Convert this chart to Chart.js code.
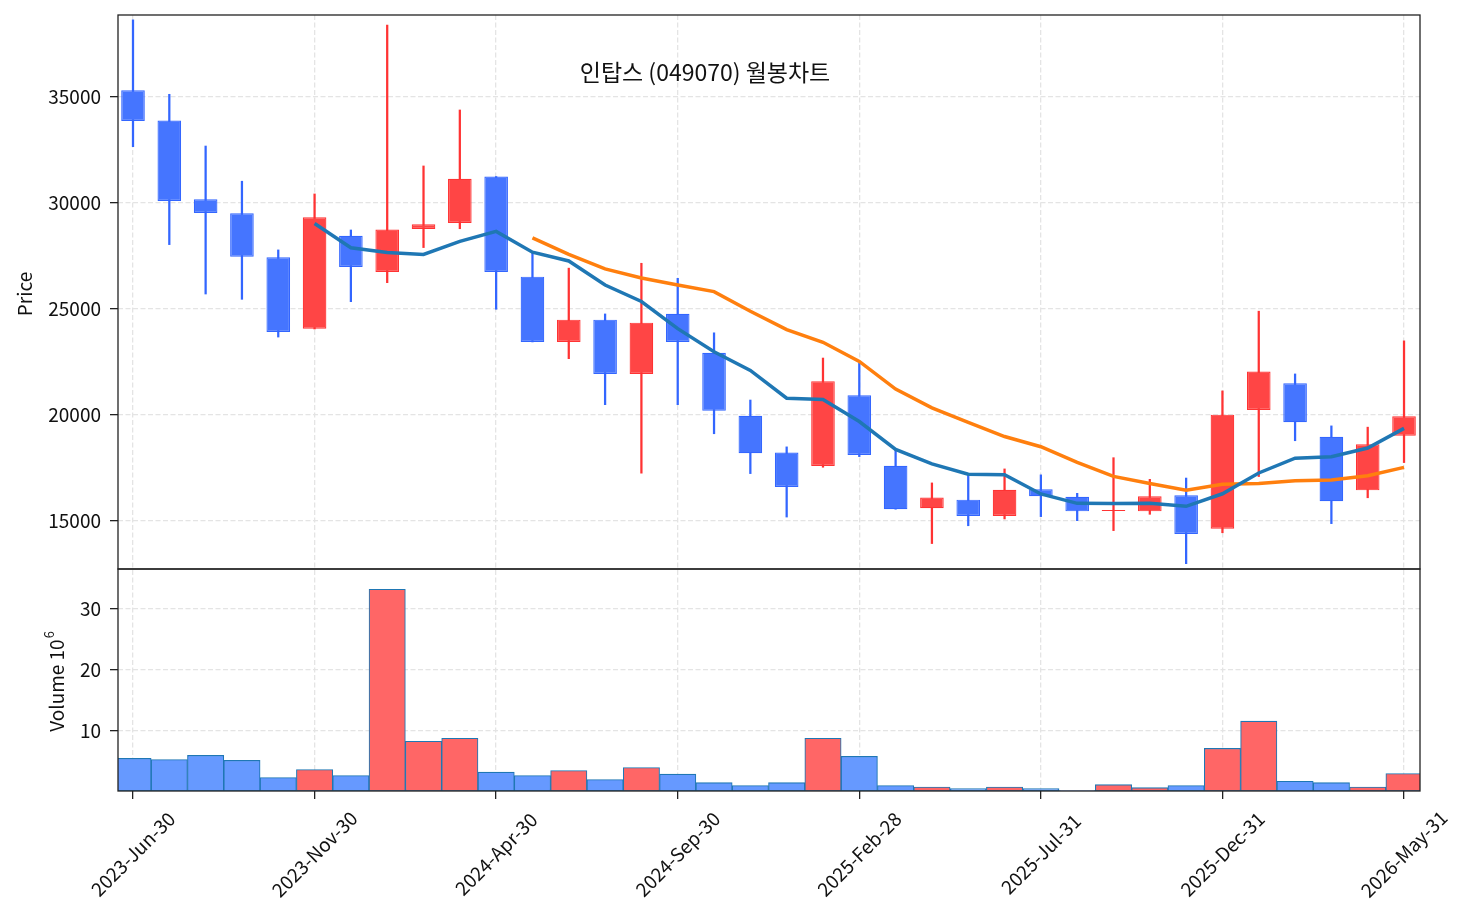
<!DOCTYPE html>
<html>
<head>
<meta charset="utf-8">
<script src="https://cdn.jsdelivr.net/npm/chart.js@4.4.1/dist/chart.umd.min.js"></script>
<style>
  html, body { margin: 0; padding: 0; background: #fff; }
  canvas { display: block; }
</style>
</head>
<body>
<canvas id="chart" width="1470" height="924"></canvas>
<script>
// 인탑스 (049070) monthly candles, 2023-Jun .. 2026-May
const opens  = [35300, 33870, 30160, 29500, 27420, 24050, 28440, 26730, 28760, 29040, 31230, 26510,
                23430, 24480, 21920, 24760, 22920, 19950, 18210, 17580, 20920, 17590, 15590, 15990,
                15220, 16480, 16130, 15450, 15440, 16200, 14620, 20220, 21480, 18960, 16430, 19010];
const highs  = [38620, 35110, 32670, 31010, 27770, 30410, 28710, 38380, 31730, 34370, 31230, 27610,
                26910, 24750, 27140, 26430, 23860, 20690, 18480, 22670, 22420, 18340, 16780, 17160,
                17440, 17160, 16290, 17970, 16950, 17010, 21120, 24880, 21920, 19470, 19410, 23480];
const lows   = [32640, 28020, 25690, 25440, 23660, 24040, 25330, 26230, 27880, 28770, 24970, 23430,
                22640, 20470, 17240, 20470, 19100, 17220, 15170, 17520, 18020, 15540, 13920, 14760,
                15080, 15190, 15000, 14530, 15300, 12970, 14430, 17080, 18770, 14860, 16080, 17740];
const closes = [33850, 30080, 29510, 27450, 23900, 29310, 26970, 28730, 28980, 31130, 26730, 23430,
                24480, 21920, 24340, 23430, 20180, 18180, 16590, 21580, 18100, 15540, 16090, 15220,
                16460, 16150, 15440, 15500, 16150, 14370, 20000, 22030, 19640, 15920, 18600, 19920];
// volume in millions
const volumes = [5.37, 5.20, 5.87, 5.04, 2.21, 3.54, 2.55, 33.26, 8.19, 8.69, 3.10, 2.55,
                 3.38, 1.88, 3.87, 2.77, 1.38, 0.89, 1.38, 8.69, 5.70, 0.89, 0.66, 0.39,
                 0.66, 0.39, 0.08, 1.05, 0.55, 0.89, 7.03, 11.51, 1.60, 1.38, 0.66, 2.88];
// moving averages
const ma6  = [null, null, null, null, null, 29017, 27870, 27645, 27557, 28170, 28642, 27662,
              27247, 26112, 25338, 24055, 22963, 22088, 20773, 20717, 19677, 18362, 17680, 17187,
              17165, 16260, 15817, 15810, 15820, 15678, 16268, 17248, 17948, 18018, 18427, 19352];
const ma12 = [null, null, null, null, null, null, null, null, null, null, null, 28339,
              27558, 26878, 26448, 26113, 25803, 24875, 24010, 23414, 22508, 21208, 20322, 19638,
              18969, 18488, 17747, 17086, 16750, 16433, 16717, 16754, 16883, 16914, 17123, 17515];

const xTickIdx = [0, 5, 10, 15, 20, 25, 30, 35];
const xTickLabels = ['2023-Jun-30', '2023-Nov-30', '2024-Apr-30', '2024-Sep-30',
                     '2025-Feb-28', '2025-Jul-31', '2025-Dec-31', '2026-May-31'];
const priceTicks = [15000, 20000, 25000, 30000, 35000];
const volTicks = [10, 20, 30];

const FONT = "'Noto Sans CJK KR', 'Noto Sans', sans-serif";
Chart.defaults.font.family = FONT;
Chart.defaults.color = '#111';

const up = closes.map((c, i) => c >= opens[i]);
const candleFill = up.map(u => u ? '#ff4545' : '#4575ff');
const candleEdge = up.map(u => u ? '#ff3333' : '#3366ff');
const volFill = up.map(u => u ? '#ff6666' : '#6699ff');

const gridOpts = { color: '#e4e4e4', lineWidth: 1.3, tickColor: '#222', tickLength: 8, tickWidth: 1.3, tickBorderDash: [], offset: false };
const borderOpts = { display: false, dash: [5, 2.5] };

// fixed axis boxes so the plot area lands where the reference has it
const fitY = s => { s.width = 118; s.paddingTop = 0; s.paddingBottom = 0; };
const fitX = s => { s.height = 133; s.paddingLeft = 0; s.paddingRight = 0; };

const decor = {
  id: 'decor',
  afterDraw(c) {
    const { ctx, chartArea: a, scales } = c;
    ctx.save();
    ctx.strokeStyle = '#222';
    ctx.lineWidth = 1.3;
    [scales.y, scales.vol].forEach(s => {
      ctx.strokeRect(a.left, s.top, a.right - a.left, s.bottom - s.top);
    });

    ctx.fillStyle = '#111';
    // title
    ctx.font = '23px ' + FONT;
    ctx.textAlign = 'center';
    ctx.textBaseline = 'middle';
    ctx.fillText('인탑스 (049070) 월봉차트', 705, 72);

    // axis titles
    ctx.font = '19px ' + FONT;
    ctx.save();
    ctx.translate(25, 294);
    ctx.rotate(-Math.PI / 2);
    ctx.fillText('Price', 0, 0);
    ctx.restore();

    ctx.save();
    ctx.translate(57, 682);
    ctx.rotate(-Math.PI / 2);
    ctx.textAlign = 'left';
    const w1 = ctx.measureText('Volume 10').width;
    ctx.font = '13px ' + FONT;
    const w2 = ctx.measureText('6').width;
    const start = -(w1 + w2) / 2;
    ctx.font = '19px ' + FONT;
    ctx.fillText('Volume 10', start, 0);
    ctx.font = '13px ' + FONT;
    ctx.fillText('6', start + w1 + 1, -8);
    ctx.restore();

    // rotated date labels, centred under each tick
    ctx.font = '19px ' + FONT;
    ctx.textAlign = 'center';
    xTickIdx.forEach((v, k) => {
      const px = scales.x.getPixelForValue(v);
      ctx.save();
      ctx.translate(px, 854);
      ctx.rotate(-Math.PI / 4);
      ctx.fillText(xTickLabels[k], 0, 0);
      ctx.restore();
    });
    ctx.restore();
  }
};

const idx = opens.map((_, i) => i);

new Chart(document.getElementById('chart').getContext('2d'), {
  type: 'bar',
  data: {
    datasets: [
      {
        type: 'line', label: 'MA6', order: 0, yAxisID: 'y',
        data: ma6.map((v, i) => ({ x: i, y: v })),
        borderColor: '#1f77b4', borderWidth: 3.5, pointRadius: 0, spanGaps: false
      },
      {
        type: 'line', label: 'MA12', order: 0, yAxisID: 'y',
        data: ma12.map((v, i) => ({ x: i, y: v })),
        borderColor: '#ff7f0e', borderWidth: 3.5, pointRadius: 0, spanGaps: false
      },
      {
        label: 'body', order: 1, yAxisID: 'y', grouped: false,
        data: idx.map(i => ({ x: i, y: [opens[i], closes[i]] })),
        backgroundColor: candleFill, borderColor: candleEdge, borderWidth: 1.2,
        borderSkipped: false, barPercentage: 0.65, categoryPercentage: 1
      },
      {
        label: 'wick', order: 2, yAxisID: 'y', grouped: false,
        data: idx.map(i => ({ x: i, y: [lows[i], highs[i]] })),
        backgroundColor: candleEdge, borderWidth: 0, barThickness: 1.6
      },
      {
        label: 'volume', order: 3, yAxisID: 'vol', grouped: false,
        data: idx.map(i => ({ x: i, y: volumes[i] })),
        backgroundColor: volFill, borderColor: '#1f77b4', borderWidth: 1.1,
        borderSkipped: false, barPercentage: 1, categoryPercentage: 1
      }
    ]
  },
  options: {
    responsive: false,
    animation: false,
    layout: { padding: { top: 15, right: 50, left: 0, bottom: 0 } },
    plugins: { legend: { display: false }, tooltip: { enabled: false } },
    scales: {
      x: {
        type: 'linear', min: -0.413, max: 35.44, offset: false,
        afterBuildTicks: s => { s.ticks = xTickIdx.map(v => ({ value: v })); },
        afterFit: fitX,
        ticks: { display: false, autoSkip: false },
        grid: gridOpts, border: borderOpts
      },
      vol: {
        type: 'linear', position: 'left', stack: 'main', stackWeight: 222,
        min: 0, max: 36.6,
        afterBuildTicks: s => { s.ticks = volTicks.map(v => ({ value: v })); },
        afterFit: fitY,
        ticks: { font: { size: 19 }, padding: 9, color: '#111', callback: v => String(v) },
        grid: gridOpts, border: borderOpts
      },
      y: {
        type: 'linear', position: 'left', stack: 'main', stackWeight: 554,
        min: 12720, max: 38850,
        afterBuildTicks: s => { s.ticks = priceTicks.map(v => ({ value: v })); },
        afterFit: fitY,
        ticks: { font: { size: 19 }, padding: 9, color: '#111', callback: v => String(v) },
        grid: gridOpts, border: borderOpts
      }
    }
  },
  plugins: [decor]
});
</script>
</body>
</html>
